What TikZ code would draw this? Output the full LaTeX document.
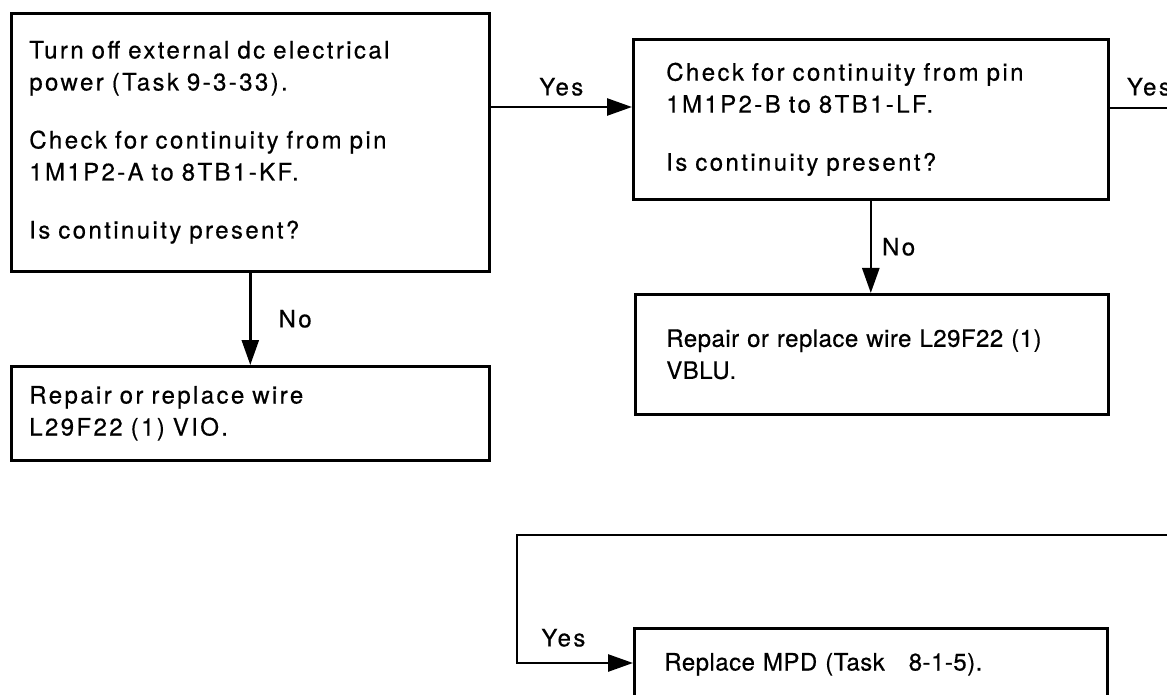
\documentclass[tikz,border=0pt]{standalone}
\usepackage{fontspec}
\setmainfont{TeX Gyre Heros}
\newfontfamily\wideheros[LetterSpace=10,FakeBold=0.5]{TeX Gyre Heros}
\newfontfamily\slimheros[LetterSpace=2,FakeBold=0.5]{TeX Gyre Heros}
\usepackage{tikz}
\usetikzlibrary{arrows.meta,positioning}

\begin{document}
\begin{tikzpicture}[x=0.5pt,y=-0.5pt,
		box/.style={draw,line width=1.3pt,anchor=north west,align=left,inner ysep=0pt,
			font=\wideheros\fontsize{12}{16}\selectfont},
		slimbox/.style={box,font=\slimheros\fontsize{12}{16}\selectfont},
		arr/.style={-{Triangle[length=12.5pt,width=8.5pt]},line width=1.3pt},
		lbl/.style={font=\wideheros\fontsize{12}{14}\selectfont,inner sep=0pt}]
	
	\useasboundingbox (0,0) rectangle (1167,695);
	
	% boxes
	\node[box,inner xsep=9pt,text width=221pt,minimum height=129pt] (chkA) at (10,12)
	{Turn off external dc electrical\\ power (Task 9-3-33).\\[13pt]
		Check for continuity from pin\\ 1M1P2-A to 8TB1-KF.\\[13pt]
		Is continuity present?};
	
	\node[box,inner xsep=9pt,text width=221pt,minimum height=47pt] (fixA) at (10,365)
	{Repair or replace wire\\ L29F22 (1) VIO.};
	
	\node[box,inner xsep=16.5pt,text width=204.5pt,minimum height=80pt] (chkB) at (632,38)
	{Check for continuity from pin\\ 1M1P2-B to 8TB1-LF.\\[13pt]
		Is continuity present?};
	
	\node[slimbox,inner xsep=15.5pt,text width=205.5pt,minimum height=60pt] (fixB) at (634,293)
	{Repair or replace wire L29F22 (1)\\ VBLU.};
	
	\node[slimbox,inner xsep=15pt,inner ysep=12.5pt,text width=206.5pt,
		text height=8.6pt,text depth=50pt] (mpd) at (633,627)
	{Replace MPD (Task\ \ \ 8-1-5).};
	
	% connectors
	\draw[arr] (chkA.east |- 0,107) -- (chkB.west |- 0,107)
	node[lbl,midway,above=5pt] {Yes};
	
	\draw[arr] (chkA.south) -- (fixA.north)
	node[lbl,midway,right=13.5pt] {No};
	
	\draw[arr] (chkB.south) -- (chkB.south |- fixB.north)
	node[lbl,midway,right=5pt] {No};
	
	\coordinate (toC) at (1190,108);
	\draw[line width=1.3pt] (chkB.east |- toC) -- (toC)
	node[lbl,pos=0,above right=5.5pt and 8pt] {Yes};
	
	\coordinate (fromC) at (1190,535);
	\coordinate (bend) at (517,663);
	\draw[arr] (fromC) -| (bend) -- (mpd.west |- bend)
	node[lbl,pos=0.4,above=7.5pt] {Yes};
	
\end{tikzpicture}
\end{document}
